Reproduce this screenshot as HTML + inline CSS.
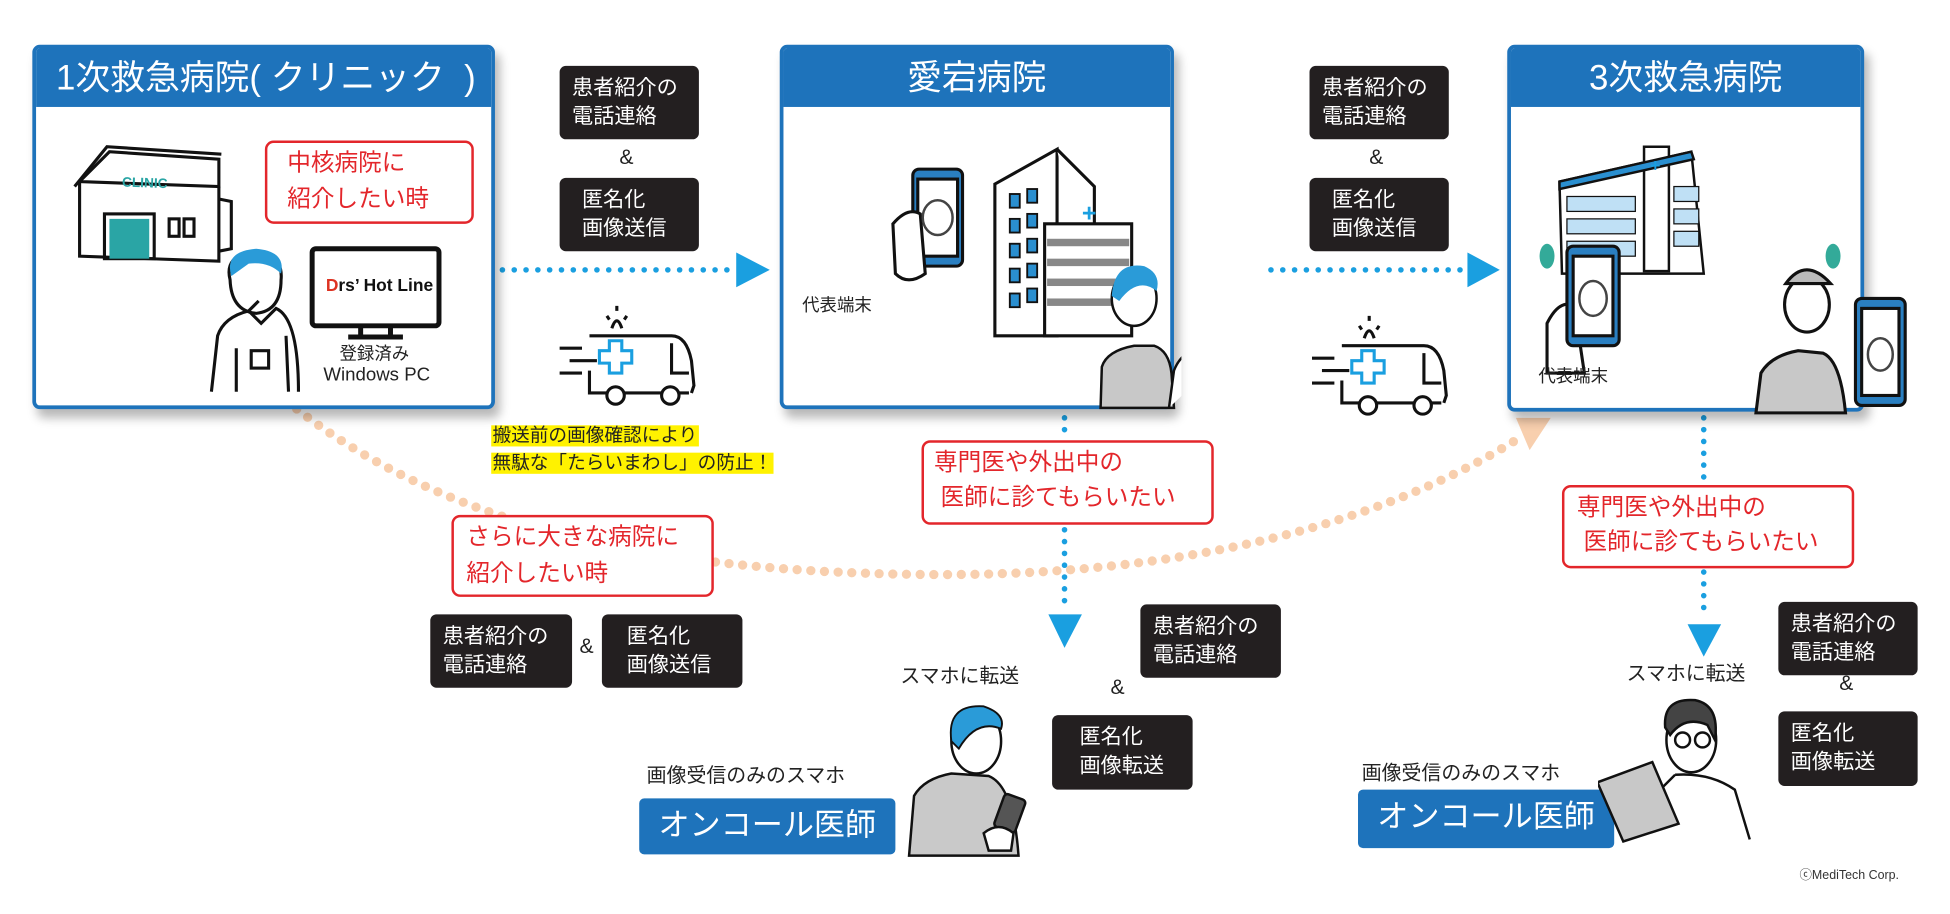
<!DOCTYPE html>
<html><head><meta charset="utf-8">
<style>
html,body{margin:0;padding:0;background:#fff;width:1950px;height:914px;overflow:hidden}
#s{position:absolute;left:0;top:0;width:1568px;height:735px;transform:scale(1.2436);transform-origin:0 0;font-family:"Liberation Sans","Noto Sans CJK JP",sans-serif;color:#222}
.a{position:absolute}
.box{position:absolute;border:3px solid #1e73bb;border-radius:6px;background:#fff;box-shadow:4px 7px 8px rgba(0,0,0,.28);overflow:hidden}
.hd{position:absolute;left:0;top:0;right:0;height:47px;background:#1e73bb;color:#fff;font-size:28px;line-height:47px}
.blk{position:absolute;background:#231f20;color:#fff;border-radius:5px;font-size:17px;line-height:23px;padding:6px 10px;box-sizing:border-box}
.red{position:absolute;border:2.5px solid #e3262b;border-radius:7px;color:#e3262b;font-size:19px;line-height:28px;box-sizing:border-box;padding:4px 14px;background:#fff}
.amp{position:absolute;font-size:17px}
.t{position:absolute;font-size:15px;white-space:nowrap}
.bl{position:absolute;background:#1e73bb;color:#fff;border-radius:4px;font-size:25px;text-align:center;line-height:44px}
</style></head><body><div id="s">
<svg class="a" style="left:0;top:0" width="1568" height="735">
 <path d="M230,322 C350,420 520,462 760,462 C980,462 1130,410 1222,352" fill="none" stroke="#f8cfae" stroke-width="7.5" stroke-linecap="round" stroke-dasharray="0 11"/>
 <polygon points="1219,336 1247,336 1230,362" fill="#f8cfae"/>
 <line x1="404" y1="217" x2="592" y2="217" stroke="#1a9fe0" stroke-width="4.5" stroke-linecap="round" stroke-dasharray="0 9.5"/>
 <polygon points="592,203 592,231 619,217" fill="#1a9fe0"/>
 <line x1="1022" y1="217" x2="1180" y2="217" stroke="#1a9fe0" stroke-width="4.5" stroke-linecap="round" stroke-dasharray="0 9.5"/>
 <polygon points="1180,203 1180,231 1206,217" fill="#1a9fe0"/>
 <line x1="856" y1="336" x2="856" y2="355" stroke="#1a9fe0" stroke-width="4.5" stroke-linecap="round" stroke-dasharray="0 9.5"/>
 <line x1="856" y1="426" x2="856" y2="490" stroke="#1a9fe0" stroke-width="4.5" stroke-linecap="round" stroke-dasharray="0 9.5"/>
 <polygon points="843,494 870,494 856,521" fill="#1a9fe0"/>
 <line x1="1370" y1="336" x2="1370" y2="388" stroke="#1a9fe0" stroke-width="4.5" stroke-linecap="round" stroke-dasharray="0 9.5"/>
 <line x1="1370" y1="460" x2="1370" y2="498" stroke="#1a9fe0" stroke-width="4.5" stroke-linecap="round" stroke-dasharray="0 9.5"/>
 <polygon points="1357,502 1384,502 1370,528" fill="#1a9fe0"/>
</svg>

<div class="box" style="left:26px;top:36px;width:366px;height:287px">
 <div class="hd" style="padding-left:16px">1次救急病院(&nbsp;クリニック&nbsp;&nbsp;)</div>
</div>
<svg class="a" style="left:40px;top:110px" width="340" height="215">
 <g fill="none" stroke="#111" stroke-width="2.5">
  <path d="M24,36 L48,12 L136,18 L136,40 L24,36Z"/><path d="M24,36 L24,96 L136,100 L136,40"/>
  <path d="M20,40 L46,8 L138,14"/><path d="M136,50 L146,52 L146,90 L136,92"/>
  <rect x="44" y="62" width="40" height="36"/><rect x="96" y="66" width="8" height="14"/><rect x="108" y="66" width="8" height="14"/>
  <path d="M130,205 L135,160 Q140,145 160,140 L168,132 M150,205 L150,170 M192,205 L190,160"/>
  <path d="M145,115 Q140,95 165,92 Q188,95 186,115 Q186,140 166,142 Q146,140 145,115Z"/>
  <path d="M160,140 L170,150 L182,138 Q200,146 200,205"/><rect x="162" y="172" width="14" height="14"/>
  <rect x="211" y="90" width="102" height="62" rx="3" stroke-width="4"/><path d="M250,152 L250,160 M274,152 L274,160 M240,161 L284,161" stroke-width="4"/>
 </g>
 <text x="58" y="40" font-size="11" font-weight="bold" fill="#2aa5a5" font-family="Liberation Sans" transform="rotate(2 58 40)">CLINIC</text>
 <rect x="48" y="66" width="32" height="32" fill="#2aa5a5"/>
 <path d="M146,112 Q140,92 166,90 Q190,92 186,110 Q176,100 160,102Z" fill="#2a9bd8"/>
 <text x="222" y="124" font-size="14" font-weight="bold" font-family="Liberation Sans" fill="#111"><tspan fill="#d32">D</tspan>rs’ Hot Line</text>
</svg>
<div class="red" style="left:213px;top:113px;width:168px;height:67px;padding:2px 16px;font-size:19px;line-height:29px">中核病院に<br>紹介したい時</div>
<div class="t" style="left:273px;top:274px;font-size:14px">登録済み</div>
<div class="t" style="left:260px;top:293px;font-size:15px">Windows PC</div>

<div class="blk" style="left:450px;top:53px;width:112px;height:59px">患者紹介の<br>電話連絡</div>
<div class="amp" style="left:498px;top:117px">&amp;</div>
<div class="blk" style="left:450px;top:143px;width:112px;height:59px;padding-left:18px">匿名化<br>画像送信</div>
<svg class="a" style="left:440px;top:240px" width="130" height="90">
 <g fill="none" stroke="#111" stroke-width="2.5">
  <path d="M34,30 L100,30 Q112,30 116,50 L118,70 L116,76 M100,36 L100,60 L114,60 M34,58 L34,76 L48,76 M62,76 L92,76 M106,76 L114,76"/>
  <circle cx="55" cy="78" r="7"/><circle cx="99" cy="78" r="7"/>
  <path d="M10,40 L28,40 M18,50 L40,50 M10,60 L28,60 M52,24 Q56,12 60,24 M48,14 L50,17 M56,6 L56,10 M64,14 L62,17"/>
 </g>
 <path d="M50,34 h10 v8 h8 v10 h-8 v8 h-10 v-8 h-8 v-10 h8z" fill="#fff" stroke="#1a9fe0" stroke-width="2.5"/>
</svg>

<div class="box" style="left:627px;top:36px;width:311px;height:287px">
 <div class="hd" style="text-align:center">愛宕病院</div>
</div>
<div class="t" style="left:645px;top:235px;font-size:14px">代表端末</div>
<svg class="a" style="left:700px;top:110px" width="250" height="220">
 <g stroke="#111" stroke-width="2.5" fill="#fff">
  <path d="M100,38 L150,10 L150,160 L100,160Z"/><path d="M150,10 L180,40 L180,160"/>
  <path d="M140,70 L210,70 L210,160 L140,160Z"/>
  <rect x="34" y="26" width="40" height="78" rx="5" fill="#2a7fc1"/><rect x="38" y="34" width="32" height="62" fill="#fff"/>
  <path d="M18,70 Q30,56 40,62 L44,110 Q30,120 20,110Z"/>
 </g>
 <g fill="#2a8fd0" stroke="#111" stroke-width="1.5">
  <rect x="112" y="46" width="8" height="11"/><rect x="126" y="42" width="8" height="11"/>
  <rect x="112" y="66" width="8" height="11"/><rect x="126" y="62" width="8" height="11"/>
  <rect x="112" y="86" width="8" height="11"/><rect x="126" y="82" width="8" height="11"/>
  <rect x="112" y="106" width="8" height="11"/><rect x="126" y="102" width="8" height="11"/>
  <rect x="112" y="126" width="8" height="11"/><rect x="126" y="122" width="8" height="11"/>
 </g>
 <g fill="#888"><rect x="142" y="82" width="66" height="6"/><rect x="142" y="98" width="66" height="6"/><rect x="142" y="114" width="66" height="6"/><rect x="142" y="130" width="66" height="6"/></g>
 <text x="170" y="68" fill="#1a9fe0" font-size="20" font-weight="bold">+</text>
 <ellipse cx="54" cy="65" rx="12" ry="14" fill="none" stroke="#444" stroke-width="2"/>
 <g stroke="#111" stroke-width="2">
  <path d="M185,218 L186,185 Q190,172 212,168 L228,168 Q240,172 242,190 L244,218Z" fill="#c8c8c8"/>
  <ellipse cx="212" cy="130" rx="18" ry="22" fill="#fff"/>
  <path d="M240,218 L244,188 Q250,172 268,168 L290,170" fill="#fff"/>
  <ellipse cx="275" cy="125" rx="17" ry="22" fill="#fff"/>
 </g>
 <path d="M194,128 Q196,100 220,104 Q234,110 230,124 Q215,112 200,132Z" fill="#2a9bd8"/>
 <path d="M258,118 Q262,96 286,102 Q292,112 290,118 Q275,106 260,120Z" fill="#2a9bd8"/>
</svg>

<div class="red" style="left:741px;top:354px;width:235px;height:68px;padding:3px 8px;line-height:28px">専門医や外出中の<br>&nbsp;医師に診てもらいたい</div>

<div class="blk" style="left:1053px;top:53px;width:112px;height:59px">患者紹介の<br>電話連絡</div>
<div class="amp" style="left:1101px;top:117px">&amp;</div>
<div class="blk" style="left:1053px;top:143px;width:112px;height:59px;padding-left:18px">匿名化<br>画像送信</div>
<svg class="a" style="left:1045px;top:248px" width="130" height="90">
 <g fill="none" stroke="#111" stroke-width="2.5">
  <path d="M34,30 L100,30 Q112,30 116,50 L118,70 L116,76 M100,36 L100,60 L114,60 M34,58 L34,76 L48,76 M62,76 L92,76 M106,76 L114,76"/>
  <circle cx="55" cy="78" r="7"/><circle cx="99" cy="78" r="7"/>
  <path d="M10,40 L28,40 M18,50 L40,50 M10,60 L28,60 M52,24 Q56,12 60,24 M48,14 L50,17 M56,6 L56,10 M64,14 L62,17"/>
 </g>
 <path d="M50,34 h10 v8 h8 v10 h-8 v8 h-10 v-8 h-8 v-10 h8z" fill="#fff" stroke="#1a9fe0" stroke-width="2.5"/>
</svg>

<div class="box" style="left:1212px;top:36px;width:281px;height:289px">
 <div class="hd" style="text-align:center">3次救急病院</div>
</div>
<svg class="a" style="left:1230px;top:110px" width="320" height="225">
 <g stroke="#111" stroke-width="2" fill="#fff">
  <path d="M24,36 L130,12 L140,110 L26,110Z"/>
  <rect x="92" y="8" width="20" height="100"/>
  <path d="M24,36 L130,12 L132,18 L24,42Z" fill="#2a8fd0"/>
 </g>
 <g fill="#bfe0f5" stroke="#111" stroke-width="1">
  <rect x="30" y="48" width="55" height="12"/><rect x="30" y="66" width="55" height="12"/><rect x="30" y="84" width="55" height="12"/>
  <rect x="116" y="40" width="20" height="12"/><rect x="116" y="58" width="20" height="12"/><rect x="116" y="76" width="20" height="12"/>
 </g>
 <ellipse cx="14" cy="96" rx="6" ry="10" fill="#3a9"/><ellipse cx="244" cy="96" rx="6" ry="10" fill="#3a9"/>
 <g stroke="#111" stroke-width="2.5" fill="#fff">
  <path d="M14,150 Q24,130 36,136 L44,190 L14,190Z"/>
  <rect x="30" y="88" width="42" height="80" rx="5" fill="#2a7fc1"/><rect x="35" y="96" width="32" height="64" fill="#fff"/>
  <path d="M182,222 L186,190 Q194,176 216,172 L236,174 Q250,180 254,222Z" fill="#c8c8c8"/>
  <ellipse cx="223" cy="135" rx="18" ry="22"/>
  <path d="M206,118 Q222,96 242,118Z" fill="#bbb"/>
  <rect x="262" y="130" width="40" height="86" rx="5" fill="#2a7fc1"/><rect x="267" y="138" width="30" height="70" fill="#fff"/>
 </g>
 <ellipse cx="51" cy="130" rx="11" ry="14" fill="none" stroke="#444" stroke-width="2"/>
 <ellipse cx="282" cy="175" rx="10" ry="13" fill="none" stroke="#444" stroke-width="2"/>
 <text x="97" y="28" fill="#1a9fe0" font-size="14" font-weight="bold">+</text>
</svg>
<div class="t" style="left:1237px;top:292px;font-size:14px">代表端末</div>

<div class="red" style="left:1256px;top:390px;width:235px;height:67px;padding:3px 10px;line-height:28px">専門医や外出中の<br>&nbsp;医師に診てもらいたい</div>

<div class="a" style="left:395px;top:340px;font-size:15px;line-height:22px">
 <span style="background:#fff200;padding:0 1px">搬送前の画像確認により</span><br>
 <span style="background:#fff200;padding:0 1px">無駄な「たらいまわし」の防止！</span>
</div>

<div class="red" style="left:363px;top:414px;width:211px;height:66px;padding:2px 10px;line-height:29px">さらに大きな病院に<br>紹介したい時</div>

<div class="blk" style="left:346px;top:494px;width:114px;height:59px">患者紹介の<br>電話連絡</div>
<div class="amp" style="left:466px;top:510px">&amp;</div>
<div class="blk" style="left:484px;top:494px;width:113px;height:59px;padding-left:20px">匿名化<br>画像送信</div>

<div class="t" style="left:724px;top:530px;font-size:16px">スマホに転送</div>
<div class="blk" style="left:917px;top:486px;width:113px;height:59px">患者紹介の<br>電話連絡</div>
<div class="amp" style="left:893px;top:543px">&amp;</div>
<div class="blk" style="left:846px;top:575px;width:113px;height:60px;padding-left:22px">匿名化<br>画像転送</div>
<div class="t" style="left:520px;top:610px;font-size:16px">画像受信のみのスマホ</div>
<div class="bl" style="left:514px;top:642px;width:206px;height:45px">オンコール医師</div>
<svg class="a" style="left:725px;top:560px" width="110" height="130">
 <g stroke="#111" stroke-width="2" fill="#fff">
  <path d="M6,128 L10,80 Q18,66 40,62 L70,64 Q90,72 94,128Z" fill="#c9c9c9"/>
  <ellipse cx="60" cy="36" rx="20" ry="26"/>
  <rect x="78" y="80" width="18" height="28" rx="3" transform="rotate(20 87 94)" fill="#555"/>
  <path d="M66,110 Q78,100 90,110 L88,124 L70,124Z"/>
 </g>
 <path d="M40,36 Q36,6 66,8 Q84,14 80,26 Q60,18 46,42Z" fill="#2a9bd8" stroke="#111" stroke-width="1.5"/>
</svg>

<div class="t" style="left:1308px;top:528px;font-size:16px">スマホに転送</div>
<div class="blk" style="left:1430px;top:484px;width:112px;height:59px">患者紹介の<br>電話連絡</div>
<div class="amp" style="left:1479px;top:540px">&amp;</div>
<div class="blk" style="left:1430px;top:572px;width:112px;height:60px">匿名化<br>画像転送</div>
<div class="t" style="left:1095px;top:608px;font-size:16px">画像受信のみのスマホ</div>
<div class="bl" style="left:1092px;top:635px;width:206px;height:47px">オンコール医師</div>
<svg class="a" style="left:1285px;top:555px" width="135" height="125">
 <g stroke="#111" stroke-width="2" fill="#fff">
  <ellipse cx="75" cy="40" rx="20" ry="26"/>
  <path d="M54,30 Q52,6 78,8 Q98,12 94,40 L88,28 Q70,20 58,36Z" fill="#444"/>
  <path d="M62,68 Q90,66 110,80 L122,120 M62,68 L40,90"/>
  <path d="M2,70 L48,60 L62,112 L16,120Z" fill="#c8c8c8" transform="rotate(-8 30 90)"/>
  <circle cx="68" cy="40" r="6" fill="none"/><circle cx="84" cy="40" r="6" fill="none"/>
 </g>
</svg>

<div class="t" style="left:1447px;top:695px;font-size:10px;color:#333">ⓒMediTech Corp.</div>
</div></body></html>
